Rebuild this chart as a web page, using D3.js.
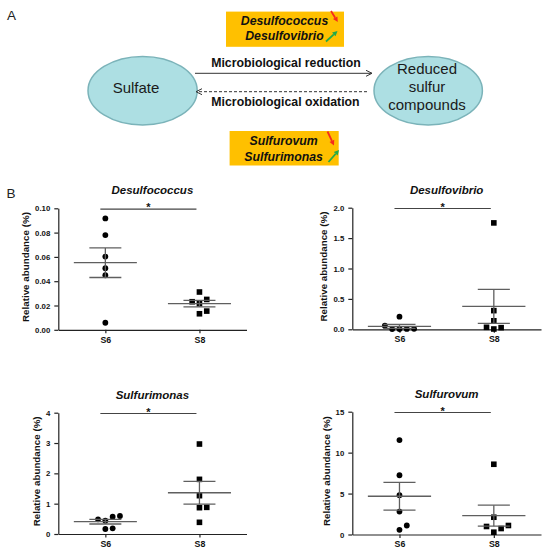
<!DOCTYPE html>
<html><head><meta charset="utf-8">
<script src="https://cdn.jsdelivr.net/npm/d3@7/dist/d3.min.js"></script>
<style>
html,body{margin:0;padding:0;background:#fff;}
svg{display:block;font-family:"Liberation Sans",Arial,sans-serif;}
</style></head>
<body>
<svg id="chart" width="550" height="552"></svg>
<script>
// ---------- DATA ----------
const groups = ["S6", "S8"];

const desulfococcusS6 = [0.0058, 0.0449, 0.0507, 0.0603, 0.078, 0.0917];
const desulfococcusS8 = [0.0132, 0.0154, 0.0215, 0.025, 0.0231, 0.0311];
const desulfococcusTicks = [0, 0.02, 0.04, 0.06, 0.08, 0.10];

const desulfovibrioS6 = [0.005, 0.006, 0.004, 0.007, 0.06, 0.208];
const desulfovibrioS8 = [0.005, 0.027, 0.033, 0.14, 0.307, 1.75];
const desulfovibrioTicks = [0, 0.5, 1.0, 1.5, 2.0];

const sulfurimonasS6 = [0.165, 0.187, 0.44, 0.571, 0.484, 0.593];
const sulfurimonasS8 = [0.385, 0.868, 0.879, 1.264, 1.802, 2.967];
const sulfurimonasTicks = [0, 1, 2, 3, 4];

const sulfurovumS6 = [0.57, 1.10, 2.80, 4.80, 7.24, 11.54];
const sulfurovumS8 = [0.28, 0.73, 0.98, 1.10, 2.11, 8.58];
const sulfurovumTicks = [0, 5, 10, 15];

const panelTitles = ["Desulfococcus", "Desulfovibrio", "Sulfurimonas", "Sulfurovum"];
const tickFormats = [".2f", ".1f", "d", "d"];
const yAxisLabel = "Relative abundance (%)";
const significance = "*";

const topGenera = ["Desulfococcus", "Desulfovibrio"];
const bottomGenera = ["Sulfurovum", "Sulfurimonas"];
const trends = ["down", "up"];
const leftNode = ["Sulfate"];
const rightNode = ["Reduced", "sulfur", "compounds"];
const reductionLabel = "Microbiological reduction";
const oxidationLabel = "Microbiological oxidation";

// ---------- DRAW ----------
const svg = d3.select("#chart");
const FONT = '"Liberation Sans",Arial,sans-serif';

// Panel letters
svg.append("text").attr("x", 7).attr("y", 19.5).attr("font-size", 13.5).attr("fill", "#222").text("A");
svg.append("text").attr("x", 6.5).attr("y", 197.5).attr("font-size", 13.5).attr("fill", "#222").text("B");

// ---- Panel A ----
const A = svg.append("g");
const orange = "#FFC000";
function trendArrow(g, x1, y1, x2, y2, color) {
  const ang = Math.atan2(y2 - y1, x2 - x1);
  const hl = 5, hw = 2.6;
  const bx = x2 - hl * Math.cos(ang), by = y2 - hl * Math.sin(ang);
  g.append("line").attr("x1", x1).attr("y1", y1).attr("x2", bx).attr("y2", by)
    .attr("stroke", color).attr("stroke-width", 1.8);
  const px = -Math.sin(ang) * hw, py = Math.cos(ang) * hw;
  g.append("path").attr("d", `M${x2},${y2}L${bx + px},${by + py}L${bx - px},${by - py}Z`).attr("fill", color);
}
const arrowColor = { down: "#F52A1E", up: "#22A94A" };

function generaBox(names, box, baselines, arrows) {
  A.append("rect").attr("x", box[0]).attr("y", box[1]).attr("width", box[2] - box[0]).attr("height", box[3] - box[1]).attr("fill", orange);
  names.forEach((n, i) => {
    A.append("text").attr("x", (box[0] + box[2]) / 2 - 0.5).attr("y", baselines[i]).attr("text-anchor", "middle")
      .attr("font-size", 12.3).attr("font-weight", "bold").attr("font-style", "italic").attr("fill", "#111").text(n);
  });
  arrows.forEach(a => trendArrow(A, a.p[0], a.p[1], a.p[2], a.p[3], arrowColor[a.t]));
}
generaBox(topGenera, [226, 11.6, 344, 46.8], [25, 39.5], [
  { t: trends[0], p: [331, 11, 337.8, 22] },
  { t: trends[1], p: [326, 41.5, 337.5, 31] }
]);
generaBox(bottomGenera, [229.6, 131, 338.7, 165.5], [145, 161], [
  { t: trends[0], p: [327.5, 131.5, 334, 145.5] },
  { t: trends[1], p: [328.5, 162, 339, 150] }
]);

// ellipses
const ellFill = "#ADDFE3", ellStroke = "#7BB3B9";
A.append("ellipse").attr("cx", 142.6).attr("cy", 90.7).attr("rx", 54.6).attr("ry", 34.3)
  .attr("fill", ellFill).attr("stroke", ellStroke).attr("stroke-width", 1.5);
A.append("ellipse").attr("cx", 428.2).attr("cy", 90.7).attr("rx", 54.2).attr("ry", 34.3)
  .attr("fill", ellFill).attr("stroke", ellStroke).attr("stroke-width", 1.5);
A.append("text").attr("x", 136).attr("y", 92.5).attr("text-anchor", "middle").attr("font-size", 15).attr("fill", "#1a1a1a").text(leftNode[0]);
rightNode.forEach((t, i) => {
  A.append("text").attr("x", 427).attr("y", 74 + i * 18).attr("text-anchor", "middle").attr("font-size", 15).attr("fill", "#1a1a1a").text(t);
});

// reaction arrows
A.append("line").attr("x1", 195).attr("y1", 73.3).attr("x2", 372).attr("y2", 73.3).attr("stroke", "#333").attr("stroke-width", 1);
A.append("path").attr("d", "M366,70.3L372,73.3L366,76.3").attr("fill", "none").attr("stroke", "#333").attr("stroke-width", 1);
A.append("line").attr("x1", 367).attr("y1", 91.7).attr("x2", 197).attr("y2", 91.7).attr("stroke", "#333").attr("stroke-width", 1).attr("stroke-dasharray", "3,2");
A.append("path").attr("d", "M202,88.7L196,91.7L202,94.7").attr("fill", "none").attr("stroke", "#333").attr("stroke-width", 1);
A.append("text").attr("x", 286).attr("y", 66.5).attr("text-anchor", "middle").attr("font-size", 12.3).attr("font-weight", "bold").attr("fill", "#111").text(reductionLabel);
A.append("text").attr("x", 285.5).attr("y", 106).attr("text-anchor", "middle").attr("font-size", 12.3).attr("font-weight", "bold").attr("fill", "#111").text(oxidationLabel);

// ---- Panel B ----
const panels = [
  { s6: desulfococcusS6, s8: desulfococcusS8, ticks: desulfococcusTicks, box: [58.3, 246.5, 208.3, 329.8] },
  { s6: desulfovibrioS6, s8: desulfovibrioS8, ticks: desulfovibrioTicks, box: [352.3, 541, 207.7, 329.3] },
  { s6: sulfurimonasS6, s8: sulfurimonasS8, ticks: sulfurimonasTicks, box: [58.3, 246.5, 412.7, 534] },
  { s6: sulfurovumS6, s8: sulfurovumS8, ticks: sulfurovumTicks, box: [352.3, 541, 411.7, 534.5] }
];

const axisColor = "#222", statColor = "#5f5f5f";
const SLOT = 7.3, COLLIDE = 6.85;

function swarm(values, y) {
  const placed = [];
  const order = [0, 1, -1, 2, -2, 3, -3, 4, -4];
  values.forEach(v => {
    const py = y(v);
    for (const k of order) {
      if (!placed.some(p => p.k === k && Math.abs(p.py - py) < COLLIDE)) { placed.push({ v, py, k }); break; }
    }
  });
  return placed;
}

panels.forEach((p, i) => {
  const [x0, x1, yTop, yBot] = p.box;
  const g = svg.append("g");
  const y = d3.scaleLinear().domain([0, d3.max(p.ticks)]).range([yBot, yTop]);
  const x = d3.scalePoint().domain(groups).range([x0, x1]).padding(0.5);
  const step = x.step();

  // y axis
  const ya = g.append("g").attr("transform", `translate(${x0},0)`)
    .call(d3.axisLeft(y).tickValues(p.ticks).tickFormat(d3.format(tickFormats[i])).tickSize(4).tickSizeOuter(0).tickPadding(4));
  ya.selectAll("path,line").attr("stroke", axisColor).attr("stroke-width", 1.2);
  ya.selectAll("text").attr("font-size", 7.8).attr("font-weight", "bold").attr("font-family", FONT).attr("fill", "#111");
  // x axis
  const xa = g.append("g").attr("transform", `translate(0,${yBot})`)
    .call(d3.axisBottom(x).tickSize(3.5).tickSizeOuter(0).tickPadding(3));
  xa.selectAll("path,line").attr("stroke", axisColor).attr("stroke-width", 1.2);
  xa.selectAll("text").attr("font-size", 8.8).attr("font-weight", "bold").attr("font-family", FONT).attr("fill", "#111");

  // y label
  let minLeft = x0;
  ya.selectAll("text").each(function () { const b = this.getBBox(); minLeft = Math.min(minLeft, x0 + b.x); });
  const lx = minLeft - 6;
  g.append("text").attr("transform", `translate(${lx},${(yTop + yBot) / 2 - 2}) rotate(-90)`)
    .attr("text-anchor", "middle").attr("font-size", 9.8).attr("font-weight", "bold").attr("fill", "#111").text(yAxisLabel);

  // title
  g.append("text").attr("x", (x0 + x1) / 2).attr("y", yTop - 14).attr("text-anchor", "middle")
    .attr("font-size", 11.5).attr("font-weight", "bold").attr("font-style", "italic").attr("fill", "#111").text(panelTitles[i]);

  // significance
  const sx1 = x("S6") - 5, sx2 = x("S8") - 3, sy = yTop + 0.8;
  g.append("line").attr("x1", sx1).attr("x2", sx2).attr("y1", sy).attr("y2", sy).attr("stroke", "#444").attr("stroke-width", 1.2);
  g.append("text").attr("x", (sx1 + sx2) / 2).attr("y", sy + 2).attr("text-anchor", "middle").attr("font-size", 11).attr("font-weight", "bold").attr("fill", "#111").text(significance);

  // groups
  [["S6", p.s6], ["S8", p.s8]].forEach(([grp, vals]) => {
    const cx = x(grp);
    const mean = d3.mean(vals);
    const sem = d3.deviation(vals) / Math.sqrt(vals.length);
    const pts = swarm(vals, y);
    if (grp === "S6") {
      g.selectAll(null).data(pts).enter().append("circle")
        .attr("cx", d => cx + d.k * SLOT).attr("cy", d => d.py).attr("r", 2.9).attr("fill", "#000");
    } else {
      g.selectAll(null).data(pts).enter().append("rect")
        .attr("x", d => cx + d.k * SLOT - 2.8).attr("y", d => d.py - 2.8).attr("width", 5.6).attr("height", 5.6).attr("fill", "#000");
    }
    const mw = step * 0.335, cw = step * 0.17;
    g.append("line").attr("x1", cx - mw).attr("x2", cx + mw).attr("y1", y(mean)).attr("y2", y(mean)).attr("stroke", statColor).attr("stroke-width", 1.3);
    g.append("line").attr("x1", cx).attr("x2", cx).attr("y1", y(mean + sem)).attr("y2", y(mean - sem)).attr("stroke", statColor).attr("stroke-width", 1.3);
    [mean + sem, mean - sem].forEach(v => {
      g.append("line").attr("x1", cx - cw).attr("x2", cx + cw).attr("y1", y(v)).attr("y2", y(v)).attr("stroke", statColor).attr("stroke-width", 1.3);
    });
  });
});
</script>
</body></html>
